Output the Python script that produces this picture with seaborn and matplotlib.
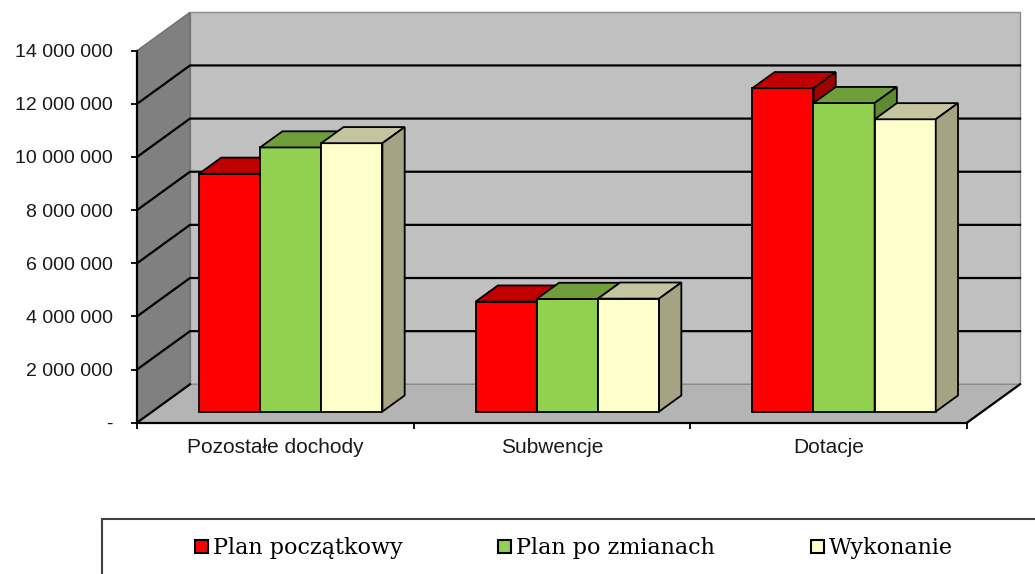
import matplotlib
matplotlib.use("Agg")
import matplotlib.colors as mcolors
import matplotlib.pyplot as plt
import pandas as pd
import seaborn as sns
from matplotlib.patches import Patch, Polygon, Rectangle
from matplotlib.transforms import Affine2D

# --- data ---
categories = ["Pozostałe dochody", "Subwencje", "Dotacje"]
series = ["Plan początkowy", "Plan po zmianach", "Wykonanie"]
plan_poczatkowy = [8950000, 4140000, 12170000]
plan_po_zmianach = [9940000, 4240000, 11610000]
wykonanie = [10100000, 4250000, 11000000]
y_ticks = [0, 2000000, 4000000, 6000000, 8000000, 10000000, 12000000, 14000000]

front_colors = ["#FF0000", "#92D050", "#FFFFCC"]
top_colors = ["#C00000", "#6F9E3A", "#C4C49E"]
side_colors = ["#A00000", "#5E8A32", "#A4A482"]

df = pd.DataFrame({
    "kategoria": categories * 3,
    "seria": [s for s in series for _ in categories],
    "wartosc": plan_poczatkowy + plan_po_zmianach + wykonanie,
})

plt.rcParams["font.family"] = ["Liberation Sans", "DejaVu Sans"]

W, H, DPI = 1035, 574, 100
Y_MAX = 14000000
fig = plt.figure(figsize=(W / DPI, H / DPI), dpi=DPI)
ax = fig.add_axes([137 / W, 1 - 422.7 / H, 830 / W, 372 / H])
ax.patch.set_visible(False)

sns.barplot(
    data=df, x="kategoria", y="wartosc", hue="seria",
    order=categories, hue_order=series, palette=front_colors,
    saturation=1, width=0.663, errorbar=None,
    edgecolor="black", linewidth=1.3, legend=False, ax=ax,
)
bars = sorted([p for p in ax.patches if isinstance(p, Rectangle)], key=lambda r: r.get_x())
ax.set_xlim(-0.5, 2.5)
ax.set_ylim(0, Y_MAX)

# pseudo-3D depth, in data units (full depth of the box)
DX = 53 / (830 / 3)
DY = 38.4 * Y_MAX / 372
BAR_FRONT, BAR_BACK = 0.29, 0.71
x_left, x_right = -0.5, 2.5

# walls and floor
back_wall = Polygon(
    [(x_left + DX, DY), (x_right + DX, DY), (x_right + DX, Y_MAX + DY), (x_left + DX, Y_MAX + DY)],
    fc="#C0C0C0", ec="#8C8C8C", lw=1, zorder=0.5, clip_on=False)
side_wall = Polygon(
    [(x_left, 0), (x_left + DX, DY), (x_left + DX, Y_MAX + DY), (x_left, Y_MAX)],
    fc="#808080", ec="#707070", lw=1, zorder=0.6, clip_on=False)
floor = Polygon(
    [(x_left, 0), (x_right, 0), (x_right + DX, DY), (x_left + DX, DY)],
    fc="#B4B4B4", ec="#8C8C8C", lw=1, zorder=0.7, clip_on=False)
for p in (back_wall, side_wall, floor):
    ax.add_patch(p)

for v in y_ticks[1:-1]:
    ax.plot([x_left, x_left + DX, x_right + DX], [v, v + DY, v + DY],
            color="black", lw=1.6, zorder=1, clip_on=False)
ax.plot([x_left, x_left + DX], [0, DY], color="black", lw=1.6, zorder=1, clip_on=False)
ax.plot([x_right, x_right + DX], [0, DY], color="black", lw=1.6, zorder=1, clip_on=False)

# bars: shift front faces to their depth and add top / side faces
shift = Affine2D().translate(BAR_FRONT * DX, BAR_FRONT * DY) + ax.transData
depth = BAR_BACK - BAR_FRONT
front_rgba = [mcolors.to_rgba(c) for c in front_colors]
for i, bar in enumerate(bars):
    fc = tuple(bar.get_facecolor())
    k = min(range(3), key=lambda j: sum((a - b) ** 2 for a, b in zip(fc, front_rgba[j])))
    z = 3 + i * 0.01
    bar.set_transform(shift)
    bar.set_clip_on(False)
    bar.set_zorder(z)
    x0 = bar.get_x() + BAR_FRONT * DX
    x1 = x0 + bar.get_width()
    y0 = BAR_FRONT * DY
    y1 = y0 + bar.get_height()
    ddx, ddy = depth * DX, depth * DY
    top = Polygon([(x0, y1), (x1, y1), (x1 + ddx, y1 + ddy), (x0 + ddx, y1 + ddy)],
                  fc=top_colors[k], ec="black", lw=1.3, zorder=z, clip_on=False)
    side = Polygon([(x1, y0), (x1 + ddx, y0 + ddy), (x1 + ddx, y1 + ddy), (x1, y1)],
                   fc=side_colors[k], ec="black", lw=1.3, zorder=z, clip_on=False)
    ax.add_patch(top)
    ax.add_patch(side)

# axes, ticks and labels
ax.set_xlabel("")
ax.set_ylabel("")
for s in ("top", "right"):
    ax.spines[s].set_visible(False)
for s in ("left", "bottom"):
    ax.spines[s].set_color("black")
    ax.spines[s].set_linewidth(1.6)
    ax.spines[s].set_zorder(2)

ax.set_yticks(y_ticks)
ax.set_yticklabels(["-" if v == 0 else f"{v:,}".replace(",", "\u00a0") for v in y_ticks])
ax.tick_params(axis="y", length=4, width=1.3, pad=13.5, labelsize=14,
               labelcolor="#1a1a1a", color="black")

ax.set_xticks([0, 1, 2])
ax.set_xticklabels(categories)
ax.set_xticks([-0.5, 0.5, 1.5, 2.5], minor=True)
ax.tick_params(axis="x", which="major", length=0, pad=11, labelsize=15, labelcolor="#1a1a1a")
ax.tick_params(axis="x", which="minor", length=4, width=1.3, color="black")

# legend
handles = [Patch(facecolor=c, edgecolor="black", linewidth=1.5) for c in front_colors]
fig.legend(handles, series, loc="center left", bbox_to_anchor=(195 / W, 1 - 548 / H),
           ncol=3, frameon=False, prop={"family": ["DejaVu Serif"], "size": 16},
           handlelength=0.59, handleheight=0.54, handletextpad=0.22,
           columnspacing=4.3, borderpad=0, borderaxespad=0)
fig.add_artist(Rectangle((102 / W, -0.2), 1.0, (574 - 519) / H + 0.2,
                         transform=fig.transFigure, fill=False, ec="#404040", lw=1.5))

fig.savefig("out.png", dpi=DPI)
